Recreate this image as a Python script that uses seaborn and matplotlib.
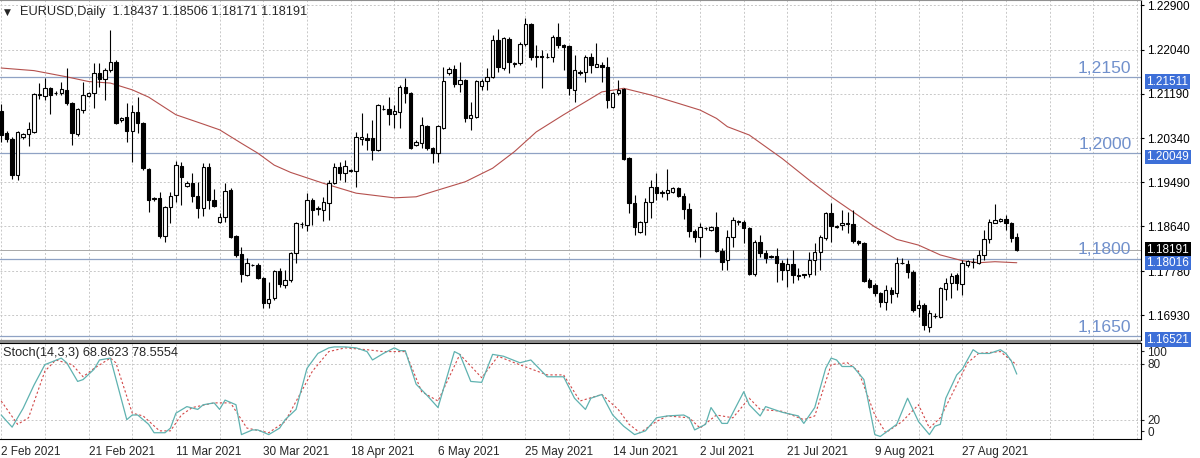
import numpy as np
import pandas as pd
import seaborn as sns
import matplotlib.pyplot as plt
import matplotlib.patches as patches
import matplotlib.transforms as mtrans

# daily candles (bar 0 = 2 Feb 2021)
bar_open = [1.2086, 1.2044, 1.2032, 1.1963, 1.2036, 1.2042, 1.2046, 1.2117, 1.2115, 1.2131,
            1.2121, 1.2121, 1.2127, 1.2102, 1.2042, 1.2088, 1.2115, 1.2121, 1.2159, 1.2148,
            1.2165, 1.2181, 1.2069, 1.2075, 1.2048, 1.2084, 1.2063, 1.1975, 1.1917, 1.1919,
            1.1845, 1.1901, 1.1924, 1.1980, 1.1942, 1.1948, 1.1923, 1.1899, 1.1978, 1.1915,
            1.1872, 1.1882, 1.1934, 1.1845, 1.1811, 1.1770, 1.1790, 1.1790, 1.1765, 1.1716,
            1.1726, 1.1778, 1.1751, 1.1761, 1.1813, 1.1869, 1.1867, 1.1915, 1.1897, 1.1896,
            1.1909, 1.1948, 1.1978, 1.1967, 1.1971, 1.1971, 1.2032, 1.2034, 1.2034, 1.2011,
            1.2090, 1.2090, 1.2080, 1.2084, 1.2132, 1.2121, 1.2021, 1.2025, 1.2057, 1.2015,
            1.2005, 1.2053, 1.2159, 1.2167, 1.2138, 1.2146, 1.2073, 1.2075, 1.2134, 1.2144,
            1.2152, 1.2223, 1.2169, 1.2225, 1.2177, 1.2179, 1.2215, 1.2254, 1.2190, 1.2192,
            1.2190, 1.2190, 1.2229, 1.2213, 1.2211, 1.2127, 1.2161, 1.2161, 1.2190, 1.2171,
            1.2175, 1.2171, 1.2094, 1.2121, 1.2129, 1.1996, 1.1909, 1.1853, 1.1872, 1.1911,
            1.1940, 1.1928, 1.1928, 1.1930, 1.1938, 1.1923, 1.1897, 1.1855, 1.1844, 1.1861,
            1.1857, 1.1863, 1.1817, 1.1799, 1.1844, 1.1872, 1.1872, 1.1861, 1.1772, 1.1834,
            1.1813, 1.1805, 1.1807, 1.1793, 1.1780, 1.1792, 1.1770, 1.1772, 1.1772, 1.1799,
            1.1815, 1.1842, 1.1890, 1.1863, 1.1867, 1.1871, 1.1869, 1.1836, 1.1832, 1.1761,
            1.1751, 1.1736, 1.1718, 1.1741, 1.1736, 1.1793, 1.1792, 1.1776, 1.1707, 1.1713,
            1.1670, 1.1691, 1.1689, 1.1743, 1.1755, 1.1770, 1.1753, 1.1790, 1.1795, 1.1793,
            1.1809, 1.1840, 1.1871, 1.1874, 1.1878, 1.1871, 1.18437]
bar_high = [1.2100, 1.2048, 1.2036, 1.2048, 1.2044, 1.2065, 1.2121, 1.2140, 1.2150, 1.2132,
            1.2125, 1.2142, 1.2169, 1.2104, 1.2092, 1.2142, 1.2123, 1.2179, 1.2179, 1.2169,
            1.2242, 1.2184, 1.2075, 1.2102, 1.2098, 1.2113, 1.2065, 1.1976, 1.1921, 1.1930,
            1.1903, 1.1930, 1.1990, 1.1988, 1.1951, 1.1967, 1.1949, 1.1986, 1.1986, 1.1936,
            1.1890, 1.1948, 1.1938, 1.1847, 1.1824, 1.1803, 1.1792, 1.1793, 1.1767, 1.1757,
            1.1780, 1.1784, 1.1780, 1.1815, 1.1872, 1.1872, 1.1928, 1.1919, 1.1903, 1.1921,
            1.1953, 1.1986, 1.1988, 1.1992, 1.1975, 1.2046, 1.2082, 1.2044, 1.2069, 1.2100,
            1.2098, 1.2113, 1.2098, 1.2136, 1.2150, 1.2123, 1.2030, 1.2075, 1.2059, 1.2017,
            1.2059, 1.2171, 1.2171, 1.2175, 1.2181, 1.2148, 1.2104, 1.2146, 1.2148, 1.2169,
            1.2233, 1.2244, 1.2229, 1.2229, 1.2181, 1.2219, 1.2265, 1.2256, 1.2213, 1.2204,
            1.2198, 1.2233, 1.2256, 1.2215, 1.2213, 1.2194, 1.2165, 1.2194, 1.2198, 1.2217,
            1.2181, 1.2190, 1.2123, 1.2146, 1.2131, 1.1998, 1.1924, 1.1874, 1.1919, 1.1953,
            1.1967, 1.1934, 1.1975, 1.1940, 1.1940, 1.1928, 1.1909, 1.1859, 1.1871, 1.1863,
            1.1865, 1.1892, 1.1822, 1.1857, 1.1882, 1.1876, 1.1876, 1.1863, 1.1838, 1.1847,
            1.1818, 1.1809, 1.1822, 1.1799, 1.1803, 1.1818, 1.1784, 1.1772, 1.1815, 1.1832,
            1.1847, 1.1892, 1.1909, 1.1867, 1.1896, 1.1892, 1.1896, 1.1838, 1.1834, 1.1765,
            1.1755, 1.1738, 1.1751, 1.1747, 1.1805, 1.1803, 1.1799, 1.1780, 1.1722, 1.1716,
            1.1703, 1.1697, 1.1747, 1.1765, 1.1774, 1.1774, 1.1799, 1.1799, 1.1803, 1.1818,
            1.1857, 1.1878, 1.1907, 1.1880, 1.1886, 1.1872, 1.18506]
bar_low = [1.2027, 1.2027, 1.1955, 1.1953, 1.2032, 1.2019, 1.2044, 1.2109, 1.2107, 1.2080,
           1.2117, 1.2117, 1.2098, 1.2021, 1.2038, 1.2082, 1.2113, 1.2092, 1.2132, 1.2107,
           1.2161, 1.2061, 1.2065, 1.2027, 1.1988, 1.2044, 1.1973, 1.1892, 1.1913, 1.1842,
           1.1834, 1.1871, 1.1911, 1.1905, 1.1940, 1.1911, 1.1880, 1.1884, 1.1897, 1.1901,
           1.1870, 1.1872, 1.1842, 1.1805, 1.1757, 1.1768, 1.1788, 1.1763, 1.1707, 1.1707,
           1.1722, 1.1747, 1.1745, 1.1757, 1.1793, 1.1861, 1.1855, 1.1867, 1.1886, 1.1874,
           1.1876, 1.1946, 1.1953, 1.1949, 1.1969, 1.1940, 1.2021, 1.2011, 1.1992, 1.2009,
           1.2088, 1.2059, 1.2053, 1.2053, 1.2102, 1.2013, 1.2019, 1.2015, 1.2011, 1.1986,
           1.1988, 1.2052, 1.2156, 1.2132, 1.2123, 1.2065, 1.2050, 1.2073, 1.2127, 1.2127,
           1.2150, 1.2161, 1.2165, 1.2159, 1.2171, 1.2175, 1.2211, 1.2184, 1.2171, 1.2131,
           1.2188, 1.2181, 1.2208, 1.2165, 1.2117, 1.2104, 1.2156, 1.2142, 1.2159, 1.2171,
           1.2142, 1.2092, 1.2092, 1.2117, 1.1992, 1.1890, 1.1847, 1.1851, 1.1847, 1.1880,
           1.1915, 1.1921, 1.1915, 1.1928, 1.1921, 1.1878, 1.1844, 1.1834, 1.1805, 1.1857,
           1.1855, 1.1815, 1.1780, 1.1780, 1.1824, 1.1867, 1.1832, 1.1770, 1.1768, 1.1805,
           1.1793, 1.1803, 1.1757, 1.1761, 1.1747, 1.1755, 1.1761, 1.1765, 1.1767, 1.1770,
           1.1780, 1.1838, 1.1834, 1.1861, 1.1857, 1.1851, 1.1832, 1.1828, 1.1757, 1.1745,
           1.1730, 1.1709, 1.1703, 1.1716, 1.1728, 1.1792, 1.1765, 1.1699, 1.1689, 1.1664,
           1.1661, 1.1688, 1.1688, 1.1722, 1.1726, 1.1741, 1.1732, 1.1786, 1.1784, 1.1792,
           1.1799, 1.1832, 1.1870, 1.1872, 1.1857, 1.1834, 1.18171]
bar_close = [1.2040, 1.2032, 1.1963, 1.2046, 1.2042, 1.2052, 1.2119, 1.2119, 1.2131, 1.2117,
             1.2120, 1.2129, 1.2102, 1.2044, 1.2090, 1.2117, 1.2121, 1.2159, 1.2148, 1.2165,
             1.2181, 1.2063, 1.2072, 1.2048, 1.2084, 1.2063, 1.1976, 1.1915, 1.1919, 1.1845,
             1.1901, 1.1923, 1.1982, 1.1959, 1.1948, 1.1923, 1.1899, 1.1978, 1.1915, 1.1903,
             1.1882, 1.1932, 1.1844, 1.1809, 1.1772, 1.1793, 1.1789, 1.1765, 1.1716, 1.1724,
             1.1778, 1.1753, 1.1761, 1.1813, 1.1871, 1.1868, 1.1915, 1.1896, 1.1899, 1.1911,
             1.1948, 1.1978, 1.1967, 1.1980, 1.1973, 1.2036, 1.2036, 1.2030, 1.2011, 1.2098,
             1.2091, 1.2080, 1.2086, 1.2132, 1.2121, 1.2015, 1.2027, 1.2059, 1.2015, 1.2005,
             1.2057, 1.2144, 1.2167, 1.2138, 1.2146, 1.2073, 1.2079, 1.2144, 1.2144, 1.2152,
             1.2223, 1.2171, 1.2227, 1.2181, 1.2178, 1.2215, 1.2254, 1.2190, 1.2192, 1.2190,
             1.2191, 1.2229, 1.2213, 1.2209, 1.2131, 1.2165, 1.2160, 1.2190, 1.2175, 1.2177,
             1.2171, 1.2107, 1.2121, 1.2127, 1.1994, 1.1909, 1.1863, 1.1872, 1.1911, 1.1940,
             1.1928, 1.1930, 1.1934, 1.1938, 1.1923, 1.1897, 1.1855, 1.1844, 1.1863, 1.1860,
             1.1863, 1.1817, 1.1795, 1.1844, 1.1876, 1.1874, 1.1861, 1.1772, 1.1834, 1.1813,
             1.1803, 1.1807, 1.1793, 1.1780, 1.1792, 1.1770, 1.1769, 1.1771, 1.1799, 1.1815,
             1.1844, 1.1890, 1.1865, 1.1865, 1.1871, 1.1869, 1.1836, 1.1832, 1.1759, 1.1747,
             1.1736, 1.1718, 1.1741, 1.1734, 1.1793, 1.1794, 1.1776, 1.1703, 1.1713, 1.1674,
             1.1697, 1.1692, 1.1745, 1.1755, 1.1768, 1.1755, 1.1793, 1.1797, 1.1796, 1.1809,
             1.1840, 1.1872, 1.1876, 1.1878, 1.1871, 1.1842, 1.18191]

# moving average (red line), sampled along the curve
ma_bar = [0, 6, 12, 16, 20, 24, 27, 32, 37, 40, 44, 47, 50, 53, 59, 65, 72, 76, 80, 85,
          90, 94, 98, 103, 107, 110, 113, 114, 119, 124, 128, 131, 133, 137, 143, 148, 152,
          156, 160, 164, 168, 172, 176, 179, 182, 186]
ma_val = [1.2169, 1.2164, 1.2152, 1.2143, 1.2140, 1.2127, 1.2113, 1.2079, 1.2061, 1.2050,
          1.2024, 1.2005, 1.1982, 1.1968, 1.1947, 1.1928, 1.1919, 1.1921, 1.1934, 1.1950,
          1.1976, 1.2008, 1.2046, 1.2079, 1.2104, 1.2123, 1.2128, 1.2130, 1.2117, 1.2101,
          1.2088, 1.2072, 1.2056, 1.2040, 1.1995, 1.1953, 1.1921, 1.1892, 1.1863, 1.1839,
          1.1828, 1.1809, 1.1798, 1.1794, 1.1796, 1.1794]

# Stoch(14,3,3)
stoch_main_bar = [0, 2, 4, 6, 8, 11, 12, 14, 15, 17, 18, 20, 23, 24, 25, 27, 28, 30, 31, 32,
                  34, 36, 37, 39, 40, 41, 43, 44, 46, 47, 49, 51, 52, 54, 56, 58, 60, 61, 63, 65,
                  67, 68, 70, 72, 73, 74, 76, 78, 80, 83, 84, 86, 88, 90, 92, 95, 97, 100, 103, 105,
                  107, 108, 110, 112, 114, 116, 118, 120, 122, 125, 126, 127, 129, 130, 132, 133,
                  136, 137, 139, 140, 143, 146, 147, 149, 151, 152, 153, 154, 156, 158, 160, 161,
                  164, 166, 168, 170, 171, 172, 173, 175, 176, 178, 179, 181, 183, 184, 185, 186]
stoch_main_val = [25, 12, 32, 57, 79, 86, 81, 61, 63, 74, 84, 86, 20, 25, 25, 15, 6, 6, 11, 27,
                  34, 31, 36, 38, 31, 41, 36, 4, 9, 9, 4, 11, 20, 31, 75, 91, 97, 98, 98, 97,
                  93, 84, 91, 97, 94, 94, 58, 46, 33, 93, 90, 61, 60, 90, 88, 81, 84, 66, 66, 43,
                  31, 43, 47, 25, 13, 4, 8, 22, 24, 25, 22, 9, 15, 33, 16, 16,
                  50, 36, 24, 34, 28, 24, 16, 33, 75, 86, 84, 77, 77, 63, 4, 2,
                  15, 43, 18, 4, 13, 15, 43, 68, 74, 95, 91, 91, 95, 91, 83, 68.86]
stoch_sig_bar = [0, 3, 5, 8, 10, 13, 15, 17, 20, 21, 24, 26, 29, 31, 33, 35, 39, 42, 45, 49,
                 52, 57, 60, 63, 67, 70, 74, 77, 80, 84, 88, 91, 94, 100, 103, 106, 110, 113, 115,
                 117, 120, 122, 126, 128, 131, 134, 137, 139, 143, 147, 149, 152, 155, 157, 160,
                 162, 165, 168, 170, 172, 177, 179, 183, 186]
stoch_sig_val = [40, 15, 22, 72, 84, 79, 66, 75, 86, 81, 27, 24, 8, 8, 25, 33, 38, 38, 11, 6,
                 18, 72, 93, 97, 95, 93, 93, 50, 40, 90, 65, 88, 81, 68, 68, 40, 47, 31, 15,
                 6, 18, 24, 22, 11, 25, 22, 43, 31, 29, 20, 24, 79, 81, 72, 25,
                 6, 18, 36, 11, 22, 81, 91, 93, 78.56]

date_bars = [0, 16, 32, 48, 64, 80, 96, 112, 128, 144, 160, 176]
date_labels = ['2 Feb 2021', '21 Feb 2021', '11 Mar 2021', '30 Mar 2021', '18 Apr 2021',
               '6 May 2021', '25 May 2021', '14 Jun 2021', '2 Jul 2021', '21 Jul 2021',
               '9 Aug 2021', '27 Aug 2021']
price_ticks = [1.22900, 1.22040, 1.21190, 1.20340, 1.19490, 1.18640, 1.17780, 1.16930]
levels = [1.21511, 1.20049, 1.18016, 1.16521]
level_names = ['1,2150', '1,2000', '1,1800', '1,1650']
bid = 1.18191

sns.set_style('white')
plt.rcParams['font.family'] = ['Liberation Sans', 'DejaVu Sans']

df = pd.DataFrame({'bar': np.arange(len(bar_open)), 'open': bar_open, 'high': bar_high,
                   'low': bar_low, 'close': bar_close})
df['up'] = df['close'] >= df['open']
df['lo'] = df[['open', 'close']].min(axis=1)
df['h'] = (df['close'] - df['open']).abs().clip(lower=0.00005)

W, H = 1200, 458
fig = plt.figure(figsize=(12, 4.58), dpi=100)
ax = fig.add_axes([0, 118 / H, 1141 / W, 340 / H])
ax2 = fig.add_axes([0, 19.3 / H, 1141 / W, 95.7 / H])
xlim = (-0.22, 208.75)
grid_kw = dict(color='#c8c8c8', lw=0.7, ls=(0, (2, 2)), zorder=0)

# ---- main price panel
for b in range(0, 209, 8):
    ax.axvline(b, **grid_kw)
for t in price_ticks:
    ax.axhline(t, **grid_kw)
for lv in levels:
    ax.axhline(lv, color='#8fa2c4', lw=0.9, zorder=1)
ax.axhline(bid, color='#a8a8a8', lw=0.7, zorder=1)

sns.lineplot(x=ma_bar, y=ma_val, ax=ax, color='#b5514e', lw=0.8, zorder=2)

ax.vlines(df['bar'], df['low'], df['high'], color='black', lw=0.8, zorder=3)
up = df[df['up']]
dn = df[~df['up']]
ax.bar(up['bar'], up['h'], bottom=up['lo'], width=0.62, facecolor='white',
       edgecolor='black', lw=0.8, zorder=4)
ax.bar(dn['bar'], dn['h'], bottom=dn['lo'], width=0.62, facecolor='black',
       edgecolor='black', lw=0.8, zorder=4)

for lv, name in zip(levels, level_names):
    ax.annotate(name, (207.0, lv), xytext=(0, 3.3), textcoords='offset points',
                ha='right', va='baseline', fontsize=12.6, color='#7090cc', zorder=6)

ax.set_xlim(*xlim)
ax.set_ylim(1.16452, 1.2300)
ax.set_xticks([])
ax.yaxis.tick_right()
ax.set_yticks(price_ticks)
ax.set_yticklabels(['%.5f' % t for t in price_ticks])
ax.tick_params(axis='y', labelsize=8.5, length=2.2, pad=2.2, direction='out', colors='black')
ax.set_xlabel('')
ax.set_ylabel('')
ax.spines['left'].set_visible(False)
ax.spines['top'].set_color('#909090')
ax.spines['right'].set_color('black')
ax.spines['bottom'].set_color('black')

# price boxes on the right scale
trans = mtrans.blended_transform_factory(ax.transAxes, ax.transData)
boxes = [(1.21426, '1.21511', '#3d6fd8'), (1.19976, '1.20049', '#3d6fd8'),
         (bid, '1.18191', 'black'), (1.17935, '1.18016', '#3d6fd8'),
         (1.16460, '1.16521', '#3d6fd8')]
for yv, txt, fc in boxes:
    ax.text(1.0048, yv, txt, transform=trans, ha='left', va='center', fontsize=8.5,
            color='white', clip_on=False, zorder=10,
            bbox=dict(boxstyle='square,pad=0.12', fc=fc, ec='none'))

ax.text(4 / 1141, 1 - 12 / 340, '\u25bc', transform=ax.transAxes, fontsize=6.5,
        va='center', ha='left', family=['DejaVu Sans'])
ax.text(20 / 1141, 1 - 12 / 340, 'EURUSD,Daily  1.18437 1.18506 1.18171 1.18191',
        transform=ax.transAxes, fontsize=9.2, va='center', ha='left')

# separator between panels
fig.add_artist(patches.Rectangle((0, 115 / H), 1141 / W, 3 / H, transform=fig.transFigure,
                                 facecolor='#8c8c8c', edgecolor='none'))

# ---- stochastic panel
for b in range(0, 209, 8):
    ax2.axvline(b, **grid_kw)
for t in [80, 20]:
    ax2.axhline(t, **grid_kw)
sns.lineplot(x=stoch_main_bar, y=stoch_main_val, ax=ax2, color='#5fb2b0', lw=0.9, zorder=3)
sns.lineplot(x=stoch_sig_bar, y=stoch_sig_val, ax=ax2, color='#d24848', lw=0.8,
             ls=(0, (2, 2)), zorder=2)
ax2.set_xlim(*xlim)
ax2.set_ylim(-0.4, 102.2)
ax2.yaxis.tick_right()
ax2.set_yticks([93.5, 80, 20, 7.5])
ax2.set_yticklabels(['100', '80', '20', '0'])
ax2.tick_params(axis='y', labelsize=8.5, length=2.2, pad=2.2, direction='out')
ax2.set_xticks(date_bars)
ax2.set_xticklabels(date_labels, ha='left')
ax2.tick_params(axis='x', labelsize=8.5, length=2.2, pad=3, direction='out')
ax2.set_xlabel('')
ax2.set_ylabel('')
ax2.spines['left'].set_visible(False)
for s in ['top', 'right', 'bottom']:
    ax2.spines[s].set_color('black')
ax2.text(3 / 1141, 1 - 10 / 95.7, 'Stoch(14,3,3) 68.8623 78.5554', transform=ax2.transAxes,
         fontsize=9.2, va='center', ha='left')

fig.savefig('out.png', dpi=100, facecolor='white')
